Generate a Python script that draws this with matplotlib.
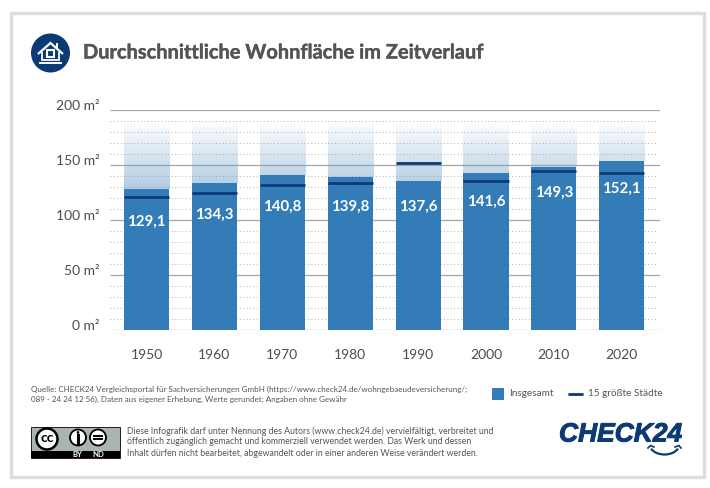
import matplotlib
matplotlib.use('Agg')
import matplotlib.pyplot as plt
import matplotlib.patheffects as pe
from matplotlib.transforms import ScaledTranslation
import numpy as np
from matplotlib.patches import Rectangle, Circle, Polygon, Arc

plt.rcParams['font.family'] = ['Lato', 'DejaVu Sans']

years = ['1950', '1960', '1970', '1980', '1990', '2000', '2010', '2020']
# bar tops as drawn in the picture (they differ a little from the printed labels)
insgesamt = [128.6, 133.3, 141.0, 138.8, 135.7, 143.0, 148.5, 153.3]
staedte = [120.6, 124.8, 131.5, 133.3, 152.0, 135.7, 144.8, 143.0]
labels = ['129,1', '134,3', '140,8', '139,8', '137,6', '141,6', '149,3', '152,1']
solid_ticks = [0, 50, 100, 150, 200]
dotted_ticks = [10, 20, 30, 40, 60, 70, 80, 90, 110, 120, 130, 140, 160, 170, 180, 190]

blue = '#347cb8'
navy = '#0b3a75'
grey = '#555555'

fig = plt.figure(figsize=(7.10, 4.88), dpi=100, facecolor='white')

# overlay in pixel coordinates for frame, header, footer
bg = fig.add_axes([0, 0, 1, 1], zorder=0)
bg.set_xlim(0, 710)
bg.set_ylim(488, 0)
bg.axis('off')
bg.add_patch(Rectangle((10.5, 13), 693, 464, fc='white', ec='#dfdcda', lw=2.4))

# chart
ax = fig.add_axes([110 / 710, (488 - 330) / 488, 550 / 710, 220 / 488], zorder=1)
ax.patch.set_alpha(0)
for s in ax.spines.values():
    s.set_visible(False)
ax.set_xticks(range(len(years)))
ax.set_xticklabels(years, fontsize=10, color='#4d4d4d')
ax.set_yticks(solid_ticks)
ax.set_yticklabels([f'{t} m\u00b2' for t in solid_ticks], fontsize=10, color='#4d4d4d')
ax.tick_params(length=0)
ax.tick_params(axis='x', pad=14)
ax.tick_params(axis='y', pad=7.5)
# y labels sit a little above their gridline
for t in ax.get_yticklabels():
    t.set_transform(t.get_transform() + ScaledTranslation(0, 3.5 / 72, fig.dpi_scale_trans))
ax.hlines(solid_ticks, -0.5375, 7.5625, color='#a6a6a6', lw=0.9, zorder=1)
ax.hlines(dotted_ticks, -0.5375, 7.5, color='#b0b0b0', lw=0.7, linestyles=(0, (1, 2.5)), zorder=1)

width = 0.663
grad = np.zeros((100, 2, 4))
grad[..., :3] = matplotlib.colors.to_rgb('#6f9fc9')
grad[:, :, 3] = np.linspace(0.0, 0.62, 100)[:, None]
for i, v in enumerate(insgesamt):
    # fade runs over a fixed range so the tone depends on height only
    start = int((190 - v) / 70 * 100)
    ax.imshow(grad[:min(start, 100)], extent=[i - width / 2, i + width / 2, v, 190],
              aspect='auto', zorder=2, interpolation='bilinear', origin='upper')
ax.set_xlim(-0.5375, 7.5625)
ax.set_ylim(0, 200)

ax.bar(range(len(years)), insgesamt, width=width, color=blue, zorder=3)
ax.hlines(staedte, np.arange(8) - width / 2, np.arange(8) + width / 2, color=navy, lw=2, zorder=4)
label_y = [98, 104.5, 112, 112, 112, 117, 124.5, 128]
for i, lab in enumerate(labels):
    ax.text(i, label_y[i], lab, color='white', fontsize=10.8, fontweight='bold',
            ha='center', va='center', zorder=5)

# header
bg.add_patch(Circle((50.5, 53), 19.5, fc=navy, ec='none'))
bg.add_patch(Polygon([(38, 54), (50.5, 43), (63, 54)], closed=False, fc='none', ec='white', lw=1.6))
bg.add_patch(Polygon([(42, 52), (42, 60), (59, 60), (59, 52)], closed=False, fc='none', ec='white', lw=1.3))
bg.add_patch(Rectangle((47, 50), 7, 6.5, fc='none', ec='white', lw=1.5))
bg.plot([40, 61], [62.5, 62.5], color='white', lw=1.4)
bg.plot([57, 57], [44, 48], color='white', lw=1.4)
bg.text(83, 52.5, 'Durchschnittliche Wohnfläche im Zeitverlauf', fontsize=14.4, fontweight='bold',
        color=grey, ha='left', va='center', path_effects=[pe.withStroke(linewidth=0.3, foreground=grey)])

# source
bg.text(31, 389.5, 'Quelle: CHECK24 Vergleichsportal für Sachversicherungen GmbH (https://www.check24.de/wohngebaeudeversicherung/;',
        fontsize=5.75, color='#555555', va='center')
bg.text(31, 399.5, '089 - 24 24 12 56), Daten aus eigener Erhebung, Werte gerundet; Angaben ohne Gewähr',
        fontsize=5.75, color='#555555', va='center')

# legend
bg.add_patch(Rectangle((492, 388), 12, 12, fc=blue, ec='none'))
bg.text(509, 394, 'Insgesamt', fontsize=7.2, color='#555555', va='center')
bg.plot([569, 582], [394, 394], color=navy, lw=2, solid_capstyle='round')
bg.text(588, 394, '15 größte Städte', fontsize=7.2, color='#555555', va='center')

# cc badge
bg.add_patch(Rectangle((31, 427), 89, 31, fc='#aab5ad', ec='black', lw=0.6))
bg.add_patch(Rectangle((31, 451), 89, 7, fc='black', ec='none'))
bg.add_patch(Circle((47, 439), 10.5, fc='white', ec='black', lw=1.8))
bg.text(47, 438.5, 'cc', fontsize=10, fontweight='bold', ha='center', va='center', color='black')
bg.add_patch(Circle((78, 437.5), 8, fc='white', ec='black', lw=1.3))
bg.plot([78, 78], [434.5, 442.5], color='black', lw=2.2)
bg.add_patch(Circle((78, 432.5), 1.4, fc='black', ec='none'))
bg.add_patch(Circle((98, 437.5), 8, fc='white', ec='black', lw=1.3))
bg.plot([94, 102], [435.6, 435.6], color='black', lw=1.4)
bg.plot([94, 102], [439.4, 439.4], color='black', lw=1.4)
bg.text(77.5, 454.7, 'BY', fontsize=5.5, fontweight='bold', color='white', ha='center', va='center')
bg.text(98, 454.7, 'ND', fontsize=5.5, fontweight='bold', color='white', ha='center', va='center')

# licence text
bg.text(127, 431, 'Diese Infografik darf unter Nennung des Autors (www.check24.de) vervielfältigt, verbreitet und',
        fontsize=6.3, color='#555555', va='center')
bg.text(127, 442, 'öffentlich zugänglich gemacht und kommerziell verwendet werden. Das Werk und dessen',
        fontsize=6.3, color='#555555', va='center')
bg.text(127, 453, 'Inhalt dürfen nicht bearbeitet, abgewandelt oder in einer anderen Weise verändert werden.',
        fontsize=6.3, color='#555555', va='center')

# logo
bg.text(559, 434.5, 'CHECK24', fontsize=19, fontweight='bold', style='italic', color=navy, va='center',
        family=['Liberation Sans'], path_effects=[pe.withStroke(linewidth=0.7, foreground=navy)])
bg.add_patch(Arc((664.5, 445), 29, 19, theta1=15, theta2=165, ec=navy, lw=1.6))
bg.plot([648, 650.5, 654], [448, 445.5, 447], color=navy, lw=1.2)
bg.plot([675, 679, 681], [447, 445.5, 448], color=navy, lw=1.2)

fig.savefig('out.png', dpi=100)
